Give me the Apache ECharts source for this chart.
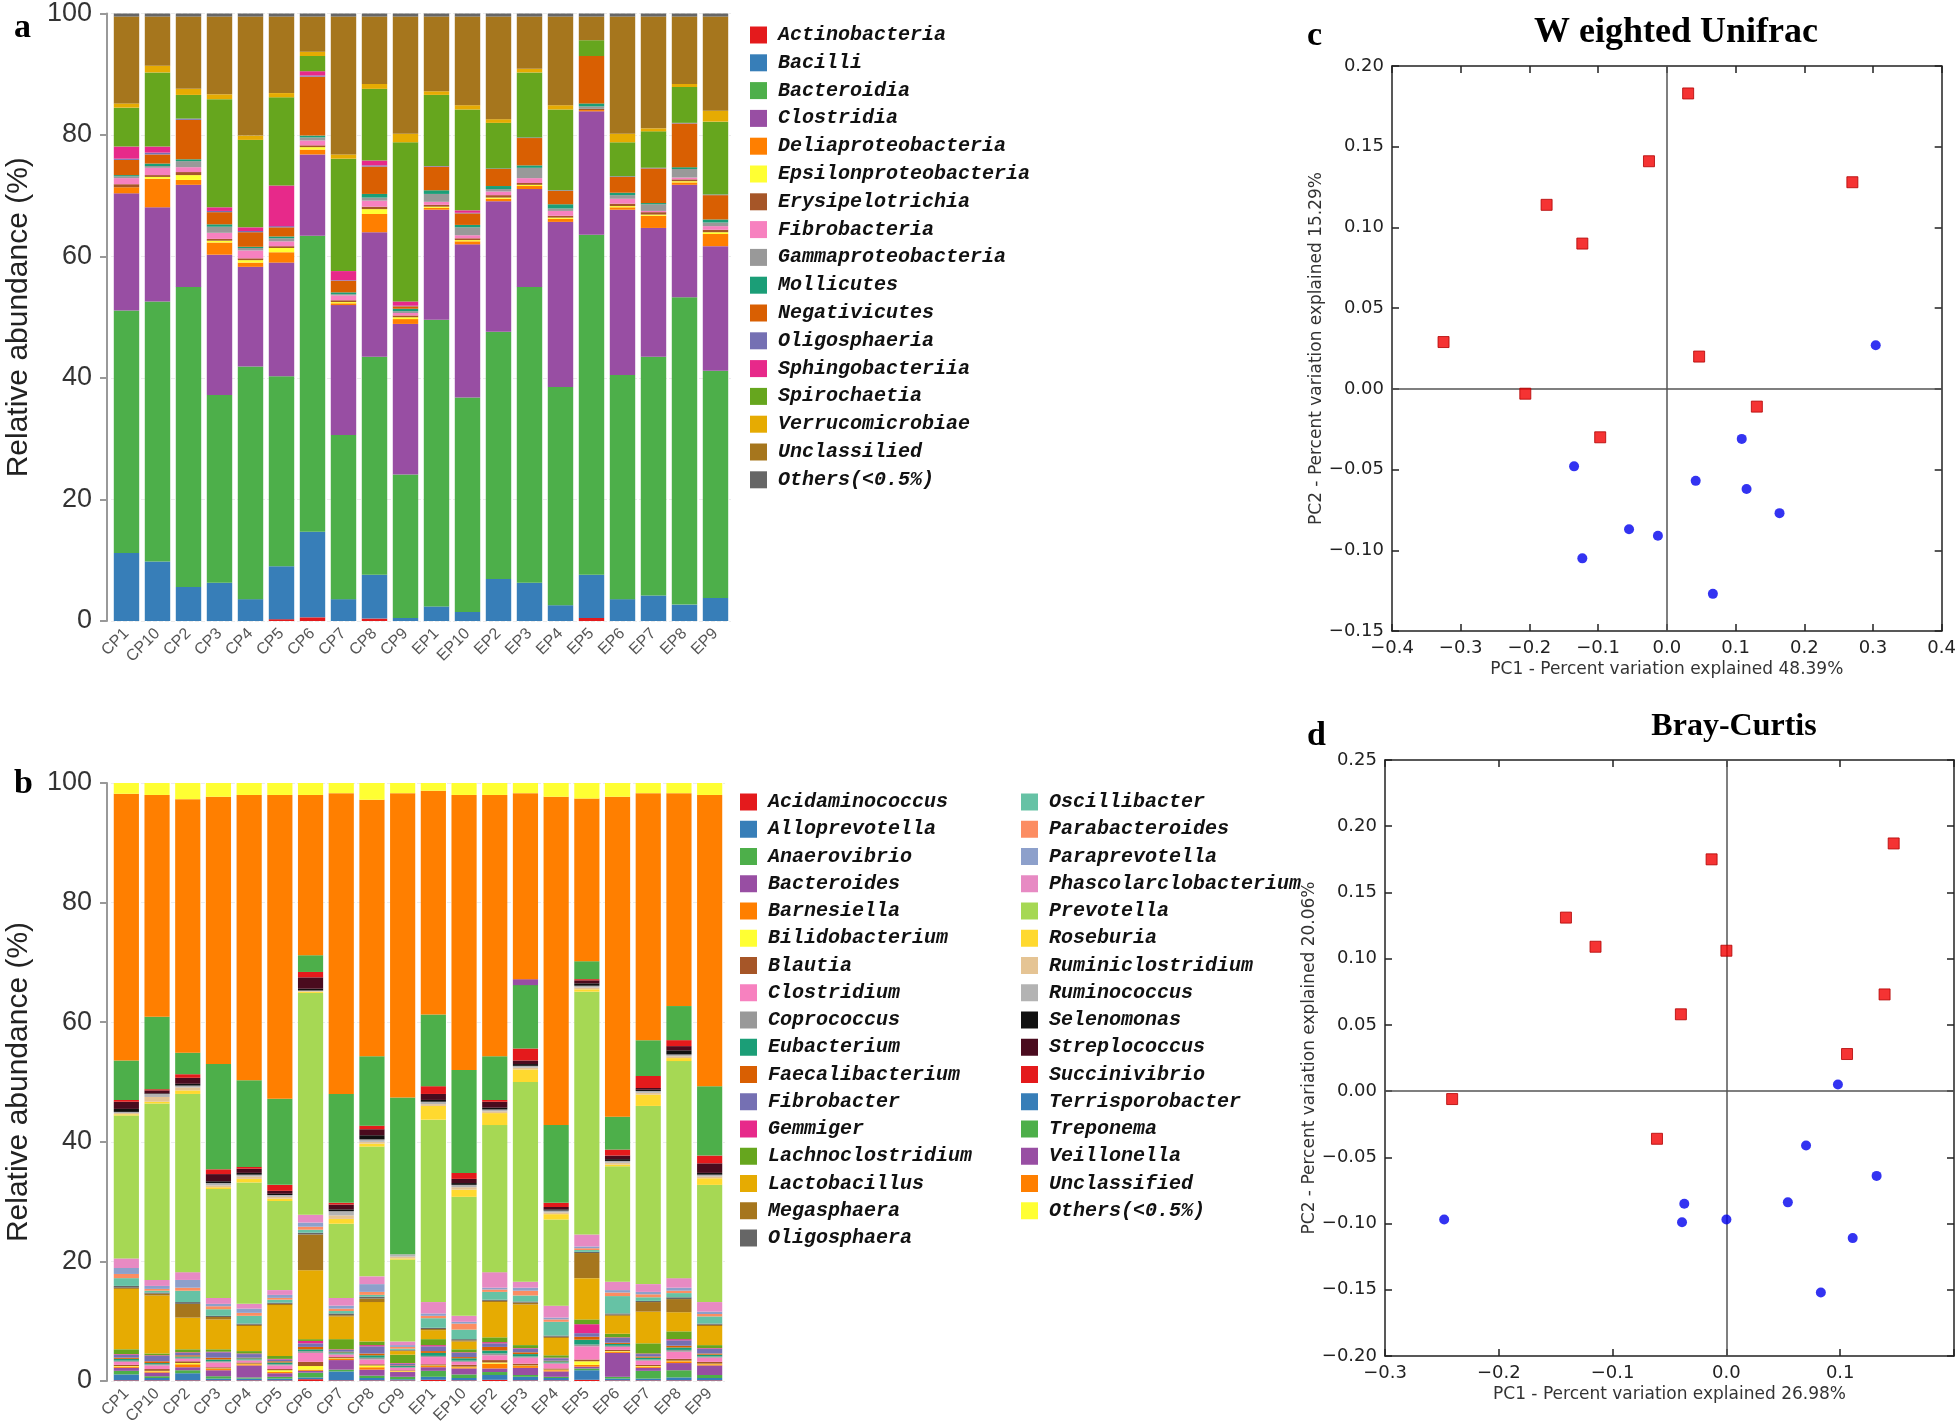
<!DOCTYPE html>
<html><head><meta charset="utf-8">
<script src="https://cdn.jsdelivr.net/npm/echarts@6/dist/echarts.min.js"></script>
<style>html,body{margin:0;padding:0;background:#fff}#c{width:1959px;height:1428px}</style>
</head><body><div id="c"></div>
<script>
const samples = ['CP1','CP10','CP2','CP3','CP4','CP5','CP6','CP7','CP8','CP9','EP1','EP10','EP2','EP3','EP4','EP5','EP6','EP7','EP8','EP9'];

// ---------- Panel a (class level, %) ----------
const actinobacteria   = [0,0,0,0,0,0.3,0.6,0,0.4,0, 0,0,0,0,0,0.5,0,0,0,0];
const bacilli          = [11.2,9.8,5.6,6.3,3.6,8.7,14.1,3.6,7.2,0.5, 2.4,1.5,6.9,6.3,2.6,7.1,3.6,4.2,2.7,3.8];
const bacteroidia      = [39.9,42.8,49.4,30.9,38.3,31.3,48.7,27.0,35.9,23.6, 47.2,35.3,40.7,48.7,35.9,56.0,36.9,39.3,50.6,37.4];
const clostridia       = [19.3,15.5,16.8,23.1,16.4,18.7,13.4,21.4,20.5,24.8, 18.1,25.2,21.5,16.1,27.2,20.3,27.2,21.2,18.5,20.5];
const deliaproteo      = [1.0,4.7,0.8,2.0,0.7,1.7,0.8,0.3,3.0,0.8, 0.3,0.5,0.4,0.5,0.5,0.2,0.4,2.0,0.4,2.0];
const epsilonproteo    = [0,0.3,0.8,0.3,0.4,0.7,0.4,0.2,0.8,0.3, 0.2,0.2,0.2,0.2,0.2,0,0.2,0.2,0.2,0.3];
const erysipelotrichia = [0.5,0.3,0.5,0.3,0.3,0.3,0.3,0.3,0.4,0.3, 0.3,0.3,0.4,0.3,0.3,0.2,0.4,0.4,0.3,0.4];
const fibrobacteria    = [1.0,1.2,0.8,1.0,1.3,0.8,0.8,0.8,1.0,0.4, 0.5,0.5,0.6,0.8,0.8,0,0.8,0.2,0.3,0.6];
const gammaproteo      = [0.3,0.3,1.0,1.0,0.4,0.5,0.5,0.2,0.5,0.3, 1.3,1.3,0.4,1.7,0.4,0.4,0.6,1.1,1.4,0.6];
const mollicutes       = [0.2,0.4,0.3,0.4,0.2,0.3,0.3,0.3,0.6,0.4, 0.6,0.4,0.5,0.4,0.7,0.5,0.4,0.2,0.3,0.5];
const negativicutes    = [2.5,1.5,6.5,2.0,2.4,1.5,9.7,1.9,4.5,0.4, 3.9,1.9,2.8,4.5,2.2,7.8,2.6,5.7,7.2,4.0];
const oligosphaeria    = [0.2,0.3,0.2,0.2,0.2,0.2,0.2,0.1,0.2,0.1, 0.1,0.1,0.1,0.1,0.1,0,0.1,0.1,0.1,0.1];
const sphingobacteriia = [2.0,1.0,0,0.6,0.6,6.7,0.7,1.5,0.8,0.7, 0,0.4,0,0,0,0,0,0,0,0];
const spirochaetia     = [6.4,12.2,3.9,17.8,14.4,14.5,2.5,18.5,11.8,26.2, 11.7,16.6,7.5,10.7,13.3,2.6,5.6,6.0,5.9,12.0];
const verrucomicrobiae = [0.7,1.1,1.0,0.8,0.7,0.7,0.7,0.7,0.8,1.4, 0.6,0.7,0.6,0.6,0.7,0,1.4,0.5,0.5,1.8];
const unclassilied     = [14.3,8.1,11.9,12.8,19.6,12.6,5.8,22.7,11.1,19.3, 12.3,14.6,16.9,8.6,14.6,3.9,19.3,18.4,11.1,15.5];
const othersA          = [0.5,0.5,0.5,0.5,0.5,0.5,0.5,0.5,0.5,0.5, 0.5,0.5,0.5,0.5,0.5,0.5,0.5,0.5,0.5,0.5];

// ---------- Panel b (genus level, %) ----------
const acidaminococcus  = [0.1,0.1,0.1,0.1,0.1,0.1,0.3,0.1,0.1,0.1, 0.2,0.1,0.2,0.1,0.1,0.2,0.1,0.1,0.1,0.1];
const alloprevotella   = [1.0,0.4,1.2,0.3,0.3,0.3,0.3,1.5,0.4,0.2, 0.5,0.4,0.8,0.6,0.4,1.6,0.3,0.3,0.5,0.4];
const anaerovibrio     = [0.6,0.3,0.5,0.4,0.2,0.3,0.8,0.3,0.4,0.4, 1.0,0.6,0.5,0.3,0.2,0.3,0.3,1.3,1.2,0.5];
const bacteroides      = [0.5,0.6,0.5,1.0,2.0,0.6,0.3,1.6,1.0,0.8, 0.6,1.0,0.6,1.2,0.9,0.3,4.0,0.5,1.2,1.6];
const barnesiella      = [0.2,0.2,0.5,0.2,0.2,0.2,0.2,0.2,0.4,0.1, 0.2,0.2,0.8,0.3,0.2,0.3,0.2,0.2,0.3,0.2];
const bilidobacterium  = [0.1,0.1,0.2,0.1,0.1,0.3,0.6,0.1,0.3,0.1, 0.1,0.1,0.2,0.1,0.1,0.6,0.1,0.1,0.1,0.1];
const blautia          = [0.2,0.3,0.3,0.2,0.2,0.2,0.7,0.2,0.2,0.1, 0.2,0.3,0.4,0.3,0.2,0.3,0.2,0.2,0.3,0.3];
const clostridium      = [0.5,0.6,0.4,0.8,0.3,0.6,1.5,0.4,0.8,0.4, 1.2,0.5,0.8,1.0,0.8,2.2,0.5,0.7,1.2,0.7];
const coprococcus      = [0.2,0.2,0.2,0.2,0.2,0.2,0.3,0.2,0.3,0.1, 0.2,0.2,0.3,0.2,0.2,0.3,0.2,0.2,0.3,0.2];
const eubacterium      = [0.3,0.2,0.2,0.3,0.2,0.3,0.3,0.2,0.4,0.2, 0.5,0.4,0.5,0.4,0.2,0.8,0.3,0.3,0.4,0.3];
const faecalibacterium = [0.2,0.3,0.2,0.3,0.1,0.2,0.4,0.1,0.3,0.1, 0.3,0.2,0.6,0.3,0.1,0.5,0.2,0.2,0.3,0.2];
const fibrobacter      = [0.5,0.9,0.4,0.9,0.6,0.3,0.6,0.3,1.2,0.3, 0.8,0.7,0.6,0.6,0.4,0.6,0.8,0.4,0.9,0.8];
const gemmiger         = [0.1,0.1,0.1,0.1,0.1,0.1,0.4,0.1,0.2,0.1, 0.2,0.1,0.2,0.1,0.1,1.5,0.1,0.1,0.2,0.1];
const lachnoclostridium= [0.8,0.3,0.5,0.4,0.4,0.5,0.3,1.7,0.6,1.4, 1.0,0.5,0.8,0.5,0.4,0.8,0.6,1.7,1.3,0.5];
const lactobacillus    = [10.1,9.7,5.3,5.0,4.2,8.5,11.5,3.8,6.6,0.6, 1.5,1.3,5.9,6.8,2.9,6.9,3.0,5.3,3.2,3.2];
const megasphaera      = [0.2,0.3,2.3,0.4,0.2,0.2,6.0,0.2,0.6,0.1, 0.2,0.2,0.2,0.3,0.2,4.2,0.2,1.6,2.2,0.2];
const oligosphaera     = [0.3,0.2,0.3,0.2,0.2,0.2,0.3,0.3,0.3,0.1, 0.2,0.2,0.2,0.2,0.2,0.2,0.2,0.2,0.3,0.2];
const oscillibacter    = [1.3,0.3,1.9,1.1,1.3,0.5,0.5,0.4,0.3,0.2, 1.6,1.6,1.3,1.0,2.3,0.3,2.9,0.6,0.7,1.2];
const parabacteroides  = [0.7,0.3,0.5,0.5,0.5,0.3,0.5,0.4,0.5,0.3, 0.4,1.0,0.4,0.8,0.4,0.3,0.6,0.5,0.4,0.4];
const paraprevotella   = [1.0,0.5,1.3,0.4,0.7,0.5,0.7,0.5,1.3,0.3, 0.4,0.3,0.3,0.5,0.3,0.3,0.4,0.4,0.5,0.4];
const phascolarcto     = [1.6,1.0,1.3,1.0,0.8,0.8,1.3,1.3,1.3,0.6, 1.9,1.0,2.6,1.0,2.0,2.0,1.4,1.3,1.6,1.6];
const prevotella       = [23.9,29.5,29.8,18.2,20.3,14.9,37.1,12.4,21.7,13.7, 30.5,19.9,24.6,33.4,14.4,40.6,19.3,29.8,36.3,19.6];
const roseburia        = [0.2,0.3,0.6,0.3,0.6,0.4,0.2,0.8,0.5,0.2, 2.3,1.2,2.0,2.1,0.9,0.4,0.3,1.9,0.5,1.1];
const ruminiclostridium= [0.2,0.8,0.5,0.3,0.4,0.3,0.1,0.6,0.3,0.3, 0.3,0.4,0.3,0.3,0.3,0.3,0.3,0.3,0.3,0.3];
const ruminococcus     = [0.2,0.5,0.3,0.4,0.3,0.3,0.1,0.7,0.4,0.4, 0.4,0.4,0.3,0.3,0.3,0.3,0.3,0.3,0.3,0.3];
const selenomonas      = [0.5,0.1,0.3,0.3,0.3,0.2,0.3,0.3,0.7,0, 0.3,0.3,0.3,0.3,0.2,0.4,0.3,0.2,0.7,0.3];
const streplococcus    = [1.2,0.5,1.0,1.2,0.7,0.5,1.9,0.8,1.0,0, 1.0,0.7,1.0,0.6,0.4,0.5,0.6,0.3,0.7,1.6];
const succinivibrio    = [0.3,0.2,0.6,0.8,0.3,1.0,0.9,0.3,0.6,0, 1.3,1.0,0.3,2.0,0.7,0.2,1.0,2.0,1.0,1.3];
const terrisporobacter = [0,0,0,0,0,0,0,0,0,0, 0,0,0,0,0,0,0,0,0,0];
const treponema        = [6.6,12.1,3.6,17.6,14.5,14.4,2.8,18.2,11.6,26.2, 12.0,17.2,7.3,10.6,13.0,3.0,5.5,6.0,5.7,11.6];
const veillonella      = [0,0,0,0,0,0,0,0,0,0, 0,0,0,1.0,0,0,0,0,0,0];
const unclassifiedB    = [44.6,37.1,42.4,44.7,47.7,50.8,26.8,50.3,42.9,50.9, 37.4,46.0,43.7,31.1,54.9,27.2,53.5,41.3,35.6,48.7];
const othersB          = [1.8,2.0,2.7,2.3,2.0,2.0,2.0,1.7,2.8,1.7, 1.3,2.0,2.0,1.7,2.3,2.6,2.3,1.7,1.7,2.0];

// ---------- Panel c : Weighted Unifrac PCoA ----------
const cSquares = [[0.031,0.183],[-0.026,0.141],[0.270,0.128],[-0.175,0.114],[-0.123,0.090],[-0.325,0.029],[0.047,0.020],[-0.206,-0.003],[0.131,-0.011],[-0.097,-0.030]];
const cCircles = [[0.304,0.027],[0.109,-0.031],[-0.135,-0.048],[0.042,-0.057],[0.116,-0.062],[0.164,-0.077],[-0.055,-0.087],[-0.013,-0.091],[-0.123,-0.105],[0.067,-0.127]];
// ---------- Panel d : Bray-Curtis PCoA ----------
const dSquares = [[0.147,0.187],[-0.013,0.175],[-0.141,0.131],[-0.115,0.109],[0.000,0.106],[-0.040,0.058],[0.139,0.073],[0.106,0.028],[-0.241,-0.006],[-0.061,-0.036]];
const dCircles = [[0.098,0.005],[0.070,-0.041],[0.132,-0.064],[-0.037,-0.085],[0.054,-0.084],[-0.248,-0.097],[-0.039,-0.099],[0.000,-0.097],[0.111,-0.111],[0.083,-0.152]];

// ---------- build ----------
const seriesA = [
  ['Actinobacteria',actinobacteria,'#E41A1C'],['Bacilli',bacilli,'#377EB8'],['Bacteroidia',bacteroidia,'#4DAF4A'],
  ['Clostridia',clostridia,'#984EA3'],['Deliaproteobacteria',deliaproteo,'#FF7F00'],['Epsilonproteobacteria',epsilonproteo,'#FFFF33'],
  ['Erysipelotrichia',erysipelotrichia,'#A65628'],['Fibrobacteria',fibrobacteria,'#F781BF'],['Gammaproteobacteria',gammaproteo,'#999999'],
  ['Mollicutes',mollicutes,'#1B9E77'],['Negativicutes',negativicutes,'#D95F02'],['Oligosphaeria',oligosphaeria,'#7570B3'],
  ['Sphingobacteriia',sphingobacteriia,'#E7298A'],['Spirochaetia',spirochaetia,'#66A61E'],['Verrucomicrobiae',verrucomicrobiae,'#E6AB02'],
  ['Unclassilied',unclassilied,'#A6761D'],['Others(<0.5%)',othersA,'#666666']
];
const seriesB = [
  ['Acidaminococcus',acidaminococcus,'#E41A1C'],['Alloprevotella',alloprevotella,'#377EB8'],['Anaerovibrio',anaerovibrio,'#4DAF4A'],
  ['Bacteroides',bacteroides,'#984EA3'],['Barnesiella',barnesiella,'#FF7F00'],['Bilidobacterium',bilidobacterium,'#FFFF33'],
  ['Blautia',blautia,'#A65628'],['Clostridium',clostridium,'#F781BF'],['Coprococcus',coprococcus,'#999999'],
  ['Eubacterium',eubacterium,'#1B9E77'],['Faecalibacterium',faecalibacterium,'#D95F02'],['Fibrobacter',fibrobacter,'#7570B3'],
  ['Gemmiger',gemmiger,'#E7298A'],['Lachnoclostridium',lachnoclostridium,'#66A61E'],['Lactobacillus',lactobacillus,'#E6AB02'],
  ['Megasphaera',megasphaera,'#A6761D'],['Oligosphaera',oligosphaera,'#666666'],
  ['Oscillibacter',oscillibacter,'#66C2A5'],['Parabacteroides',parabacteroides,'#FC8D62'],['Paraprevotella',paraprevotella,'#8DA0CB'],
  ['Phascolarclobacterium',phascolarcto,'#E78AC3'],['Prevotella',prevotella,'#A6D854'],['Roseburia',roseburia,'#FFD92F'],
  ['Ruminiclostridium',ruminiclostridium,'#E5C494'],['Ruminococcus',ruminococcus,'#B3B3B3'],['Selenomonas',selenomonas,'#111111'],
  ['Streplococcus',streplococcus,'#4A0B1E'],['Succinivibrio',succinivibrio,'#E41A1C'],['Terrisporobacter',terrisporobacter,'#377EB8'],
  ['Treponema',treponema,'#4DAF4A'],['Veillonella',veillonella,'#984EA3'],['Unclassified',unclassifiedB,'#FF7F00'],
  ['Others(<0.5%)',othersB,'#FFFF33']
];

const series = [];
seriesA.forEach(([n,d,c]) => series.push({type:'bar', name:'a:'+n, stack:'A', xAxisIndex:0, yAxisIndex:0, data:d,
  barCategoryGap:'18%', itemStyle:{color:c}, emphasis:{disabled:true}}));
seriesB.forEach(([n,d,c]) => series.push({type:'bar', name:'b:'+n, stack:'B', xAxisIndex:1, yAxisIndex:1, data:d,
  barCategoryGap:'18%', itemStyle:{color:c}, emphasis:{disabled:true}}));

const zeroLines = {silent:true, symbol:'none', label:{show:false}, lineStyle:{color:'#555', width:1.5, type:'solid'},
  data:[{xAxis:0},{yAxis:0}]};
series.push({type:'scatter', name:'cSq', xAxisIndex:2, yAxisIndex:2, data:cSquares, symbol:'rect', symbolSize:11,
  itemStyle:{color:'#F20000', borderColor:'#B00000', borderWidth:1}, markLine:zeroLines, z:5});
series.push({type:'scatter', name:'cCi', xAxisIndex:2, yAxisIndex:2, data:cCircles, symbol:'circle', symbolSize:10,
  itemStyle:{color:'#0000EE'}, z:5});
series.push({type:'scatter', name:'dSq', xAxisIndex:4, yAxisIndex:4, data:dSquares, symbol:'rect', symbolSize:11,
  itemStyle:{color:'#F20000', borderColor:'#B00000', borderWidth:1}, markLine:zeroLines, z:5});
series.push({type:'scatter', name:'dCi', xAxisIndex:4, yAxisIndex:4, data:dCircles, symbol:'circle', symbolSize:10,
  itemStyle:{color:'#0000EE'}, z:5});

function fmt(v, d){ const s = Math.abs(v) < 1e-9 ? (0).toFixed(d) : v.toFixed(d); return s.replace('-', '\u2212'); }
const sFont = 'DejaVu Sans';
const frameLine = {show:true, onZero:false, lineStyle:{color:'#222', width:1.5}};
const inTick = {show:true, inside:true, length:7, lineStyle:{color:'#222', width:1.5}};
const tickLab = (d, hideAbove) => ({show:true, fontFamily:sFont, fontSize:18, color:'#222', margin:8,
  formatter: v => (hideAbove !== undefined && v > hideAbove) ? '' : fmt(v, d)});

const barXAxis = (g) => ({type:'category', gridIndex:g, data:samples, axisLine:{show:false}, axisTick:{show:false},
  axisLabel:{interval:0, rotate:45, fontSize:16, color:'#555', fontFamily:'Liberation Sans', margin:10}});
const barYAxis = (g) => ({type:'value', gridIndex:g, min:0, max:100, interval:20, offset:4,
  axisLine:{show:true, lineStyle:{color:'#999', width:2}}, axisTick:{show:true, length:7, lineStyle:{color:'#999', width:2}},
  axisLabel:{fontSize:27, color:'#333', fontFamily:'Liberation Sans', margin:15},
  splitLine:{show:true, lineStyle:{color:'#ececec', type:'dashed'}},
  name:'Relative abundance (%)', nameLocation:'middle', nameGap:73,
  nameTextStyle:{fontSize:30, color:'#222', fontFamily:'Liberation Sans'}});

const legendText = {fontFamily:'Liberation Mono', fontStyle:'italic', fontWeight:'bold', fontSize:20, color:'#111', lineHeight:20, padding:[0,0,0,6]};
const strip = n => n.replace(/^[ab]:/, '');
const legendBase = {orient:'vertical', icon:'rect', itemWidth:17, itemHeight:17, selectedMode:false, textStyle:legendText, formatter:strip};

const option = {
  backgroundColor:'#fff',
  animation:false,
  title:[
    {text:'a', left:9, top:6, textStyle:{fontFamily:'Liberation Serif', fontWeight:'bold', fontSize:34, color:'#000'}},
    {text:'b', left:9, top:762, textStyle:{fontFamily:'Liberation Serif', fontWeight:'bold', fontSize:34, color:'#000'}},
    {text:'c', left:1302, top:14, textStyle:{fontFamily:'Liberation Serif', fontWeight:'bold', fontSize:34, color:'#000'}},
    {text:'d', left:1302, top:714, textStyle:{fontFamily:'Liberation Serif', fontWeight:'bold', fontSize:34, color:'#000'}},
    {text:'W eighted Unifrac', left:1671, top:10, textAlign:'center', textStyle:{fontFamily:'Liberation Serif', fontWeight:'bold', fontSize:36, color:'#000'}},
    {text:'Bray-Curtis', left:1729, top:706, textAlign:'center', textStyle:{fontFamily:'Liberation Serif', fontWeight:'bold', fontSize:32, color:'#000'}}
  ],
  legend:[
    Object.assign({}, legendBase, {left:745, top:20, itemGap:7.8, data:seriesA.map(s=>'a:'+s[0])}),
    Object.assign({}, legendBase, {left:735, top:787, itemGap:7.25, data:seriesB.slice(0,17).map(s=>'b:'+s[0])}),
    Object.assign({}, legendBase, {left:1016, top:787, itemGap:7.25, data:seriesB.slice(17).map(s=>'b:'+s[0])})
  ],
  grid:[
    {left:111, top:12, width:620, height:609},
    {left:111, top:783, width:614, height:598},
    {left:1392, top:66, width:550, height:565},
    {left:1385, top:760, width:569, height:596}
  ],
  xAxis:[
    barXAxis(0), barXAxis(1),
    {type:'value', gridIndex:2, min:-0.4, max:0.4, interval:0.1, position:'bottom', axisLine:frameLine, axisTick:inTick,
      axisLabel:tickLab(1), splitLine:{show:false},
      name:'PC1 - Percent variation explained 48.39%', nameLocation:'middle', nameGap:30,
      nameTextStyle:{fontFamily:sFont, fontSize:17, color:'#333'}},
    {type:'value', gridIndex:2, min:-0.4, max:0.4, interval:0.1, position:'top', axisLine:frameLine, axisTick:inTick,
      axisLabel:{show:false}, splitLine:{show:false}},
    {type:'value', gridIndex:3, min:-0.3, max:0.2, interval:0.1, position:'bottom', axisLine:frameLine, axisTick:inTick,
      axisLabel:tickLab(1, 0.15), splitLine:{show:false},
      name:'PC1 - Percent variation explained 26.98%', nameLocation:'middle', nameGap:30,
      nameTextStyle:{fontFamily:sFont, fontSize:17, color:'#333'}},
    {type:'value', gridIndex:3, min:-0.3, max:0.2, interval:0.1, position:'top', axisLine:frameLine, axisTick:inTick,
      axisLabel:{show:false}, splitLine:{show:false}}
  ],
  yAxis:[
    barYAxis(0), barYAxis(1),
    {type:'value', gridIndex:2, min:-0.15, max:0.2, interval:0.05, position:'left', axisLine:frameLine, axisTick:inTick,
      axisLabel:tickLab(2), splitLine:{show:false},
      name:'PC2 - Percent variation explained 15.29%', nameLocation:'middle', nameGap:56,
      nameTextStyle:{fontFamily:sFont, fontSize:17, color:'#333'}},
    {type:'value', gridIndex:2, min:-0.15, max:0.2, interval:0.05, position:'right', axisLine:frameLine, axisTick:inTick,
      axisLabel:{show:false}, splitLine:{show:false}},
    {type:'value', gridIndex:3, min:-0.2, max:0.25, interval:0.05, position:'left', axisLine:frameLine, axisTick:inTick,
      axisLabel:tickLab(2), splitLine:{show:false},
      name:'PC2 - Percent variation explained 20.06%', nameLocation:'middle', nameGap:66,
      nameTextStyle:{fontFamily:sFont, fontSize:17, color:'#333'}},
    {type:'value', gridIndex:3, min:-0.2, max:0.25, interval:0.05, position:'right', axisLine:frameLine, axisTick:inTick,
      axisLabel:{show:false}, splitLine:{show:false}}
  ],
  series: series
};

const chart = echarts.init(document.getElementById('c'), null, {renderer:'canvas', width:1959, height:1428});
chart.setOption(option);
</script>
</body></html>
